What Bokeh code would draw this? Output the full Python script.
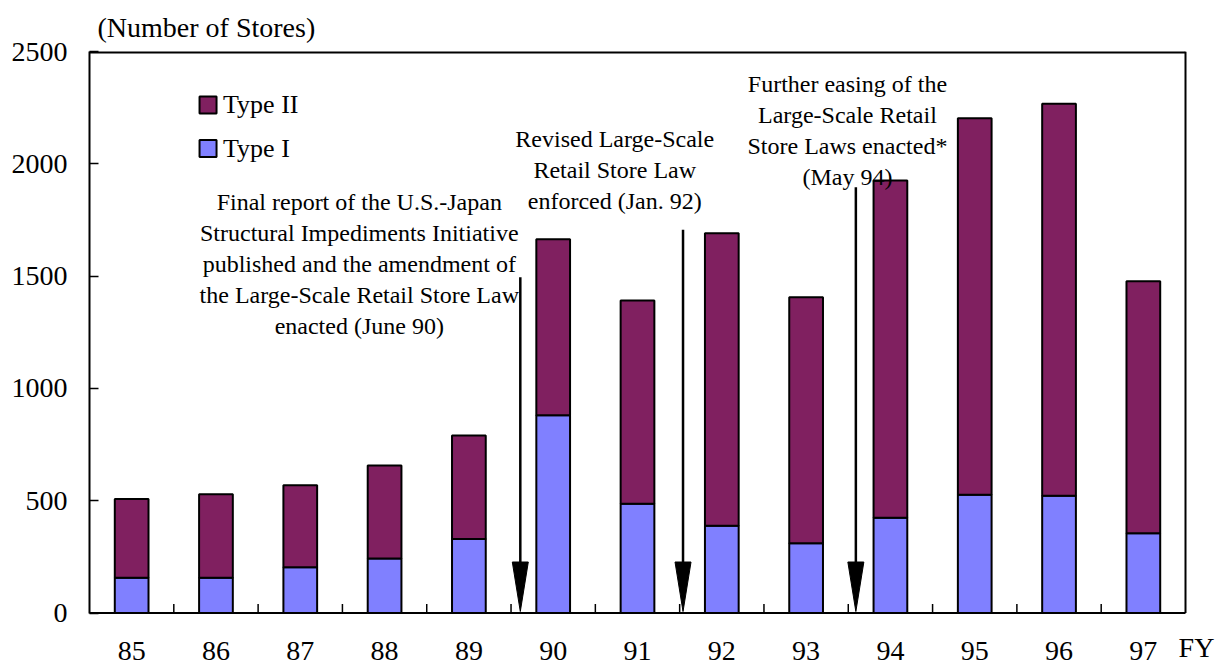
from bokeh.plotting import figure
from bokeh.models import Range1d, FixedTicker
from bokeh.embed import file_html
from bokeh.resources import INLINE
from bokeh.core.properties import value

# ---------------- data ----------------
years = ["85", "86", "87", "88", "89", "90", "91", "92", "93", "94", "95", "96", "97"]
type1 = [157, 157, 204, 243, 330, 881, 486, 388, 311, 424, 526, 522, 355]
type2 = [351, 372, 365, 414, 460, 783, 905, 1303, 1095, 1502, 1677, 1745, 1122]
y_ticks = [0, 500, 1000, 1500, 2000, 2500]
legend_names = ["Type II", "Type I"]
y_title = "(Number of Stores)"
x_title = "FY"
color_type1 = "#8080FF"
color_type2 = "#802060"

ann_lines = [
    ["Final report of the U.S.-Japan",
     "Structural Impediments Initiative",
     "published and the amendment of",
     "the Large-Scale Retail Store Law",
     "enacted (June 90)"],
    ["Revised Large-Scale",
     "Retail Store Law",
     "enforced (Jan. 92)"],
    ["Further easing of the",
     "Large-Scale Retail",
     "Store Laws enacted*",
     "(May 94)"],
]
ann_x = [2.70, 5.73, 8.49]        # centre of each text block (category units)
ann_y = [1829, 2111, 2356]        # first line of each block
arrow_x = [4.61, 6.54, 8.59]      # event positions between fiscal years
arrow_top = [1495, 1706, 1896]

FONT = "Liberation Serif"

# ---------------- geometry helpers ----------------
W, H = 1223, 668
LEFT, TOP = 89, 51
CORE_W = 1096                    # width of the boxed plot area
CORE_H = 561.5                   # height of the boxed plot area
n = len(years)
ymax = y_ticks[-1]
upp = ymax / CORE_H              # data units per pixel (y)
xpp = n / CORE_W                 # data units per pixel (x)
x_lo, x_hi = -0.5, n - 0.5
x_end = x_lo + (W - LEFT) * xpp
y_lo = -(H - TOP - CORE_H) * upp  # room below zero for the category labels

p = figure(width=W, height=H, x_range=Range1d(x_lo, x_end), y_range=Range1d(y_lo, ymax),
           output_backend="svg", toolbar_location=None, x_axis_location=None,
           min_border_left=LEFT, min_border_right=0,
           min_border_top=TOP, min_border_bottom=0)
p.background_fill_color = "white"
p.border_fill_color = "white"
p.outline_line_color = None
p.xgrid.visible = False
p.ygrid.visible = False

# title = y-axis unit label
p.title.text = y_title
p.title.align = "left"
p.title.offset = 8
p.title.standoff = 17
p.title.text_font = FONT
p.title.text_font_size = "28px"
p.title.text_font_style = "normal"
p.title.text_color = "black"

idx = list(range(n))
totals = [a + b for a, b in zip(type1, type2)]

# bars
p.vbar(x=idx, width=0.4, bottom=0, top=type1, fill_color=color_type1,
       line_color="black", line_width=2)
p.vbar(x=idx, width=0.4, bottom=type1, top=totals, fill_color=color_type2,
       line_color="black", line_width=2)

# box around plot area (top, right, bottom)
p.segment(x0=[x_lo, x_hi, x_lo], y0=[ymax, 0, 0], x1=[x_hi, x_hi, x_hi], y1=[ymax, ymax, 0],
          line_color="black", line_width=[4, 2, 2])

# y axis
ya = p.yaxis[0]
ya.bounds = (0, ymax)
ya.ticker = FixedTicker(ticks=y_ticks)
ya.major_tick_in = 9
ya.major_tick_out = 0
ya.minor_tick_line_color = None
ya.axis_line_width = 2
ya.axis_line_color = "black"
ya.major_tick_line_width = 1.5
ya.major_label_text_font = FONT
ya.major_label_text_font_size = "28px"
ya.major_label_text_color = "black"
ya.major_label_standoff = 22

# category labels and x title below the zero line
p.text(x=idx, y=[-37.5 * upp] * n, text=years, text_align="center", text_baseline="middle",
       text_font=value(FONT), text_font_size="28px", text_color="black")
p.text(x=[x_hi + 11 * xpp], y=[-34 * upp], text=[x_title], text_align="center",
       text_baseline="middle", text_font=value(FONT), text_font_size="28px", text_color="black")

# inward ticks at category boundaries
bx = [i + 0.5 for i in range(n - 1)]
p.segment(x0=bx, y0=[0] * len(bx), x1=bx, y1=[9 * upp] * len(bx),
          line_color="black", line_width=1.5)

# arrows
head_base = 51 * upp
tip = 1.5 * upp
hw = 8 * xpp
p.segment(x0=arrow_x, y0=arrow_top, x1=arrow_x, y1=[head_base] * len(arrow_x),
          line_color="black", line_width=2.5)
p.patches(xs=[[ax - hw, ax + hw, ax] for ax in arrow_x],
          ys=[[head_base, head_base, tip] for _ in arrow_x],
          fill_color="black", line_color="black", line_width=1)

# annotation texts
line_h = 31 * upp
tx, ty, tt = [], [], []
for lines, cx, cy in zip(ann_lines, ann_x, ann_y):
    for k, s in enumerate(lines):
        tx.append(cx)
        ty.append(cy - k * line_h)
        tt.append(s)
p.text(x=tx, y=ty, text=tt, text_align="center", text_baseline="middle",
       text_font=value(FONT), text_font_size="24px", text_color="black")

# legend (Type II above Type I)
leg_x = 0.906
leg_y = [2262, 2068]
p.rect(x=[leg_x] * 2, y=leg_y, width=17, height=17, width_units="screen", height_units="screen",
       fill_color=[color_type2, color_type1], line_color="black", line_width=2)
p.text(x=[leg_x + 15 * xpp] * 2, y=leg_y, text=legend_names, text_align="left",
       text_baseline="middle", text_font=value(FONT), text_font_size="26px", text_color="black")

open("out.html", "w").write(file_html(p, INLINE))
